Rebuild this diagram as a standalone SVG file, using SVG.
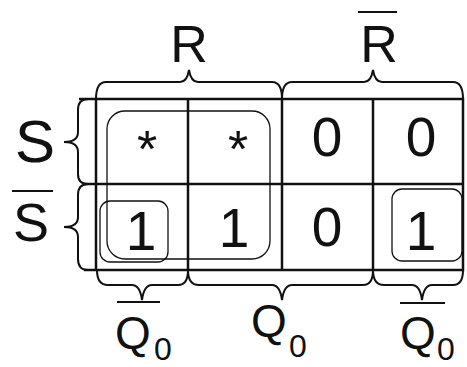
<svg xmlns="http://www.w3.org/2000/svg" width="467" height="367" viewBox="0 0 467 367">
<style>
.grid{fill:none;stroke:#111;stroke-width:2.5}
.brace{fill:none;stroke:#111;stroke-width:2}
.loop{fill:none;stroke:#111;stroke-width:1.3}
.bar{stroke:#111;stroke-width:2}
text{font-family:"Liberation Sans",Arial,sans-serif;fill:#111;text-anchor:middle}
.big{font-size:52px}
.cell{font-size:55px}
.q{font-size:46px;text-anchor:start}
.sub{font-size:32px;text-anchor:start}
</style>
<rect width="467" height="367" fill="#fff"/>
<g id="grid">
<path class="grid" d="M79,99 H463 V270 H84 M83,184 H463 M96,99 V270 M188,99 V270 M282,99 V270 M373,99 V270"/>
</g>
<g id="braces">
<path class="brace" d="M96,99 Q96,82 106,82 H180 Q187,82 189,70 Q191,82 198,82 H272 Q282,82 282,99"/>
<path class="brace" d="M282,99 Q282,82 292,82 H364 Q371,82 373,70 Q375,82 382,82 H453 Q463,82 463,99"/>
<path class="brace" d="M88,99 Q78,99 78,110 V132 Q78,142 64,142 Q78,142 78,152 V174 Q78,184 88,184"/>
<path class="brace" d="M88,184 Q78,184 78,195 V217 Q78,227 64,227 Q78,227 78,237 V259 Q78,270 88,270"/>
<path class="brace" d="M97,270 Q97,285 108,285 H132 Q140,285 142,300 Q144,285 152,285 H178 Q188,285 188,270"/>
<path class="brace" d="M188,270 Q188,285 199,285 H272 Q280,285 282,300 Q284,285 292,285 H363 Q373,285 373,270"/>
<path class="brace" d="M373,270 Q373,285 384,285 H412 Q420,285 422,300 Q424,285 432,285 H453 Q463,285 463,270"/>
</g>
<g id="loops">
<rect class="loop" x="107" y="111" width="163" height="148" rx="18"/>
<rect class="loop" x="100" y="201" width="68" height="61" rx="10"/>
<rect class="loop" x="392" y="189" width="70" height="72" rx="10"/>
</g>
<g id="labels">
<text class="big" x="189" y="62">R</text>
<text class="big" x="379" y="62">R</text>
<line class="bar" x1="358" y1="12" x2="397" y2="12"/>
<text x="35" y="162" style="font-size:60px">S</text>
<text x="31" y="241" style="font-size:54px">S</text>
<line class="bar" x1="12" y1="191" x2="53" y2="191"/>
<line class="bar" x1="117" y1="302" x2="160" y2="302"/>
<text class="q" x="115" y="349">Q</text>
<text class="sub" x="154" y="360">0</text>
<text class="q" x="251" y="337">Q</text>
<text class="sub" x="289" y="357">0</text>
<line class="bar" x1="400" y1="303" x2="445" y2="303"/>
<text class="q" x="400" y="349">Q</text>
<text class="sub" x="437" y="360">0</text>
</g>
<g id="cells">
<text class="cell" x="147" y="167" style="font-size:52px">*</text>
<text class="cell" x="238" y="167" style="font-size:52px">*</text>
<text class="cell" x="327" y="156">0</text>
<text class="cell" x="421" y="156">0</text>
<text class="cell" x="141" y="250">1</text>
<text class="cell" x="234" y="247">1</text>
<text class="cell" x="327" y="246">0</text>
<text class="cell" x="421" y="250">1</text>
</g>
</svg>
